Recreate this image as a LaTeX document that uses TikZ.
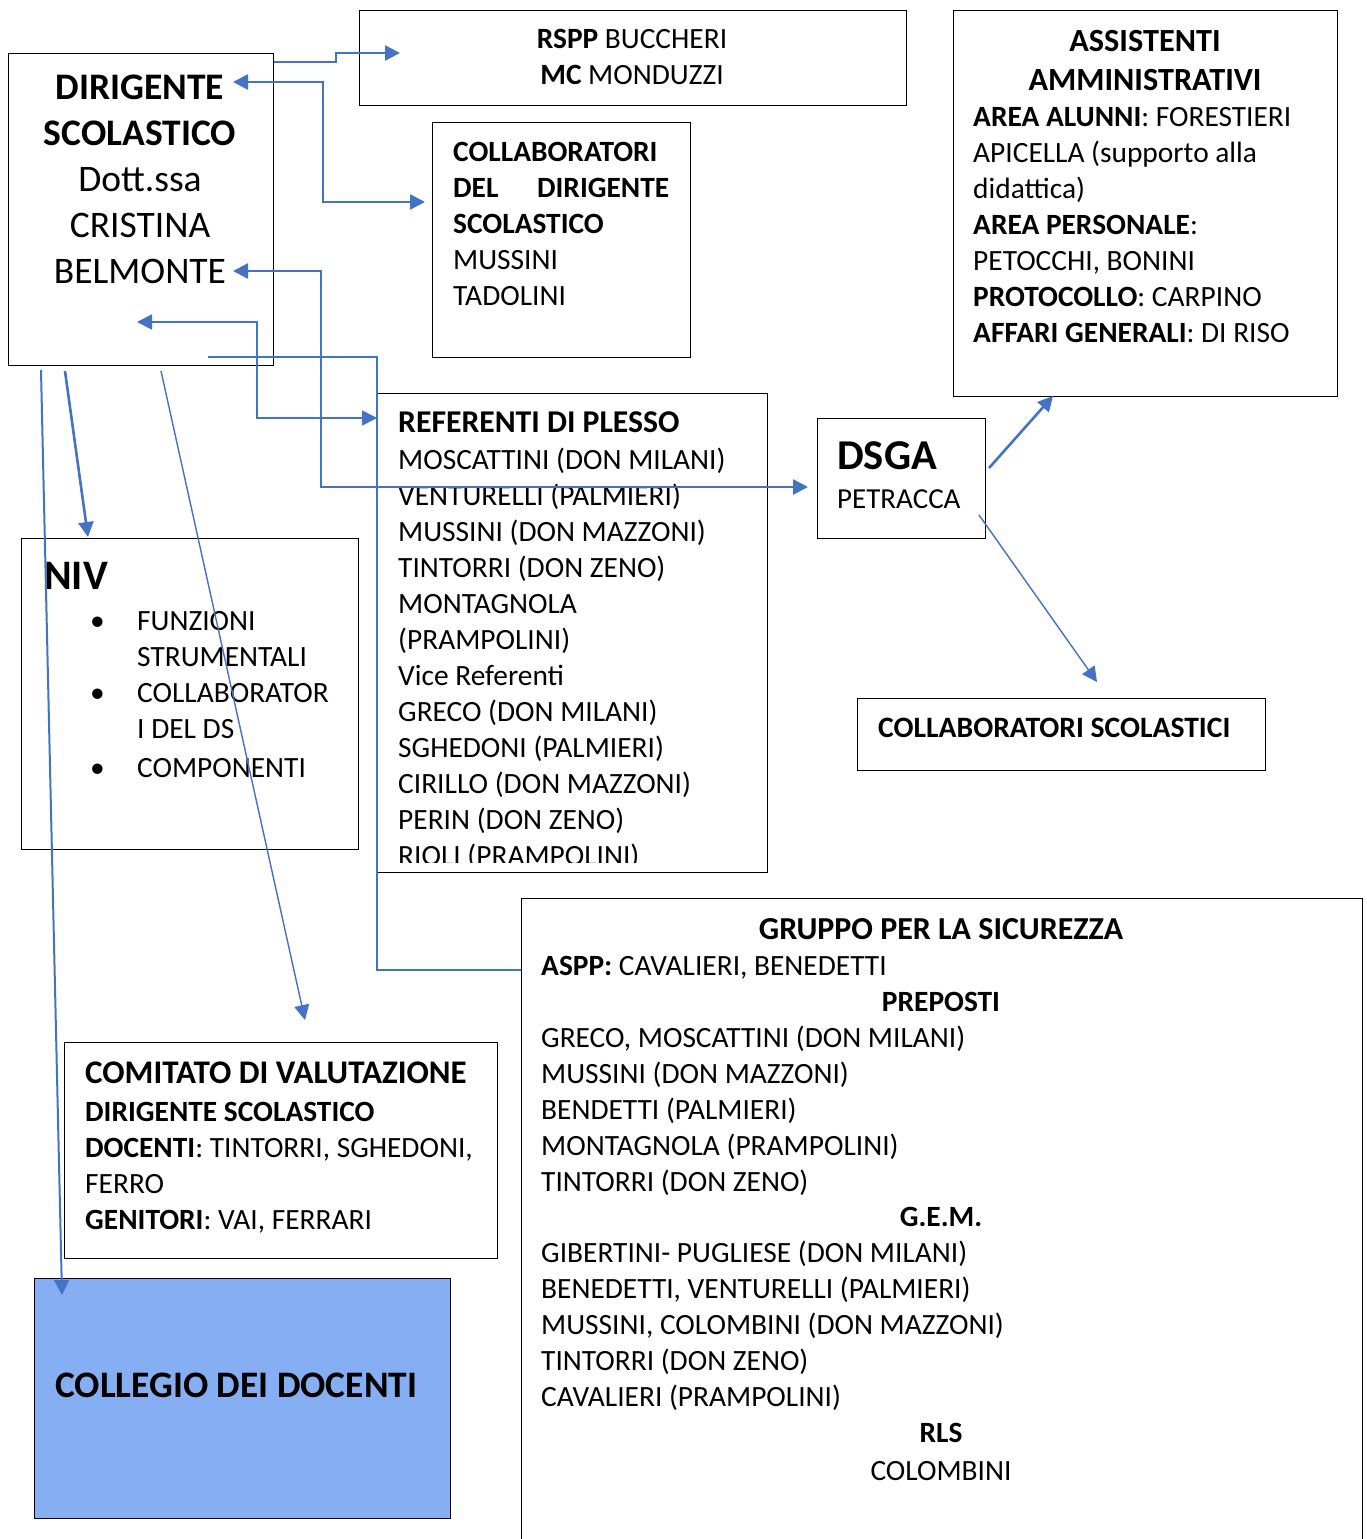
\documentclass[tikz,border=0pt]{standalone}
\usepackage{fontspec}
\setmainfont{Carlito}
\usetikzlibrary{arrows.meta}
\definecolor{ln}{RGB}{68,114,196}
\definecolor{cfill}{RGB}{134,175,243}
\newcommand{\sa}{\rule{0pt}{23pt}}
\tikzset{
  box/.style={draw=black, line width=1.4pt, rectangle, inner sep=0pt, anchor=north west},
  txt/.style={inner sep=0pt, anchor=north west, align=left, font=\fontsize{29.4}{36}\selectfont},
  one/.style={inner sep=0pt, anchor=base west, font=\fontsize{29.4}{36}\selectfont},
  onec/.style={inner sep=0pt, anchor=base, font=\fontsize{29.4}{36}\selectfont},
  thick line/.style={draw=ln, line width=2.6pt},
  thin line/.style={draw=ln, line width=1.5pt},
  tip/.style={-{Triangle[length=15pt,width=15pt]}},
  tips/.style={{Triangle[length=15pt,width=15pt]}-{Triangle[length=15pt,width=15pt]}},
}
\begin{document}
\begin{tikzpicture}[x=1pt,y=-1pt]
\useasboundingbox (0,0) rectangle (1367,1539);
\clip (0,0) rectangle (1367,1539);
\fill[white] (0,0) rectangle (1367,1539);

% boxes
\node[box, minimum width=265pt, minimum height=312pt] (dir) at (8,53) {};
\node[box, minimum width=547pt, minimum height=95pt] (rspp) at (359,10) {};
\node[box, minimum width=258pt, minimum height=235pt] (cds) at (432,122) {};
\node[box, minimum width=384pt, minimum height=386pt] (aa) at (953,10) {};
\node[box, minimum width=390pt, minimum height=479pt] (ref) at (377,393) {};
\node[box, minimum width=168pt, minimum height=120pt] (dsga) at (817,418) {};
\node[box, minimum width=408pt, minimum height=72pt] (cs) at (857,698) {};
\node[box, minimum width=337pt, minimum height=311pt] (niv) at (21,538) {};
\node[box, minimum width=841pt, minimum height=680pt] (gs) at (521,898) {};
\node[box, minimum width=433pt, minimum height=216pt] (cv) at (64,1042) {};
\node[box, fill=cfill, minimum width=416pt, minimum height=240pt] (cd) at (34,1278) {};

% texts
\node[inner sep=0pt, anchor=north, align=center, font=\fontsize{37.5}{46}\selectfont] (dirT) at (140,70)
  {\rule{0pt}{29pt}\textbf{DIRIGENTE}\\\textbf{SCOLASTICO}\\Dott.ssa\\CRISTINA\\BELMONTE};
\node[txt, anchor=north, align=center] (rsppT) at (632,25.5) {\sa\textbf{RSPP} BUCCHERI\\\textbf{MC} MONDUZZI};
\node[txt] (cdsT) at (453,138.5) {\sa\textbf{COLLABORATORI}\\\makebox[216pt][l]{\textbf{DEL}\hfill\textbf{DIRIGENTE}}\\\textbf{SCOLASTICO}\\MUSSINI\\TADOLINI};
\node[txt, anchor=north, align=center, font=\fontsize{32.3}{39}\selectfont] (aaT) at (1145,27) {\rule{0pt}{24pt}\textbf{ASSISTENTI}\\\textbf{AMMINISTRATIVI}};
\node[txt] (aaB) at (973,103.5) {\sa\textbf{AREA ALUNNI}: FORESTIERI\\APICELLA (supporto alla\\didattica)\\\textbf{AREA PERSONALE}:\\PETOCCHI, BONINI\\\textbf{PROTOCOLLO}: CARPINO\\\textbf{AFFARI GENERALI}: DI RISO};
\begin{scope}
\clip (377,393) rectangle (767,862);
\node[txt] (refT) at (398,409.5) {\sa\textbf{\fontsize{31.7}{36}\selectfont REFERENTI DI PLESSO}\\[1pt]MOSCATTINI (DON MILANI)\\VENTURELLI (PALMIERI)\\MUSSINI (DON MAZZONI)\\TINTORRI (DON ZENO)\\MONTAGNOLA\\(PRAMPOLINI)\\Vice Referenti\\GRECO (DON MILANI)\\SGHEDONI (PALMIERI)\\CIRILLO (DON MAZZONI)\\PERIN (DON ZENO)\\RIOLI (PRAMPOLINI)};
\end{scope}
\node[one, font=\fontsize{42.5}{46}\selectfont\bfseries] (dsgaT) at (837,469.5) {DSGA};
\node[one, font=\fontsize{29}{36}\selectfont] (dsgaN) at (837,508) {PETRACCA};
\node[one, font=\fontsize{29.6}{36}\selectfont\bfseries] (csT) at (878,737.5) {COLLABORATORI SCOLASTICI};
\node[one, font=\fontsize{42}{46}\selectfont\bfseries] (nivT) at (44,589.5) {NIV};
\node[one] (b1) at (90,630) {\textbullet};
\node[one] (b2) at (90,702) {\textbullet};
\node[one] (b3) at (90,777) {\textbullet};
\node[txt] (nivL) at (137,607.5) {\sa FUNZIONI\\STRUMENTALI\\COLLABORATOR\\I DEL DS\\[3pt]COMPONENTI};
\node[txt] (cvT) at (85,1060.5) {\sa\textbf{\fontsize{33}{36}\selectfont COMITATO DI VALUTAZIONE}\\[2pt]\textbf{DIRIGENTE SCOLASTICO}\\\textbf{DOCENTI}: TINTORRI, SGHEDONI,\\FERRO\\\textbf{GENITORI}: VAI, FERRARI};
\node[one, font=\fontsize{37.4}{40}\selectfont\bfseries] (cdT) at (55,1397) {COLLEGIO DEI DOCENTI};
\node[onec, font=\fontsize{32}{36}\selectfont\bfseries] (gsT) at (941,939) {GRUPPO PER LA SICUREZZA};
\node[one] (gsA) at (541,975.5) {\textbf{ASPP:} CAVALIERI, BENEDETTI};
\node[onec, font=\fontsize{29.4}{36}\selectfont\bfseries] (gsP) at (941,1011.5) {PREPOSTI};
\node[txt] (gsPL) at (541,1024.5) {\sa GRECO, MOSCATTINI (DON MILANI)\\MUSSINI (DON MAZZONI)\\BENDETTI (PALMIERI)\\MONTAGNOLA (PRAMPOLINI)\\TINTORRI (DON ZENO)};
\node[onec, font=\fontsize{29.4}{36}\selectfont\bfseries] (gsG) at (941,1226.5) {G.E.M.};
\node[txt] (gsGL) at (541,1239.5) {\sa GIBERTINI- PUGLIESE (DON MILANI)\\BENEDETTI, VENTURELLI (PALMIERI)\\MUSSINI, COLOMBINI (DON MAZZONI)\\TINTORRI (DON ZENO)\\CAVALIERI (PRAMPOLINI)};
\node[onec, font=\fontsize{29.4}{36}\selectfont\bfseries] (gsR) at (941,1442.5) {RLS};
\node[onec] (gsRN) at (941,1480.5) {COLOMBINI};

% connector end points
\coordinate (r1) at (400,53);
\coordinate (d2) at (233,82);
\coordinate (c2) at (425,202);
\coordinate (d3) at (233,271);
\coordinate (g3) at (808,487);
\coordinate (d4) at (137,322);
\coordinate (f4) at (377,418);
\coordinate (s5) at (208,357);
\coordinate (s6) at (41,370);
\coordinate (e6) at (62,1295);
\coordinate (s7) at (65,371);
\coordinate (e7) at (88,537);
\coordinate (s8) at (161,371);
\coordinate (e8) at (305,1020);
\coordinate (s9) at (989,468);
\coordinate (e9) at (1053,396);
\coordinate (s10) at (979,515);
\coordinate (e10) at (1097,682);

% connectors
\draw[thick line, tip] (dir.north east |- 0,62) -- (336,62) -- (336,53) -- (r1);
\draw[thick line, tips] (d2) -- (323,82) -- (323,202) -- (c2);
\draw[thick line, tips] (d3) -- (321,271) -- (321,487) -- (g3);
\draw[thin line, line width=1.8pt, tips] (d4) -- (257,322) -- (257,418) -- (f4);
\draw[thick line] (s5) -- (377,357) -- (377,970) -- (gs.west |- 0,970);
\draw[thin line, line width=2pt, tip] (s6) -- (e6);
\draw[thick line, tip] (s7) -- (e7);
\draw[thin line, line width=1.4pt, tip] (s8) -- (e8);
\draw[thick line, tip] (s9) -- (e9);
\draw[thin line, line width=1.4pt, tip] (s10) -- (e10);
\end{tikzpicture}
\end{document}
